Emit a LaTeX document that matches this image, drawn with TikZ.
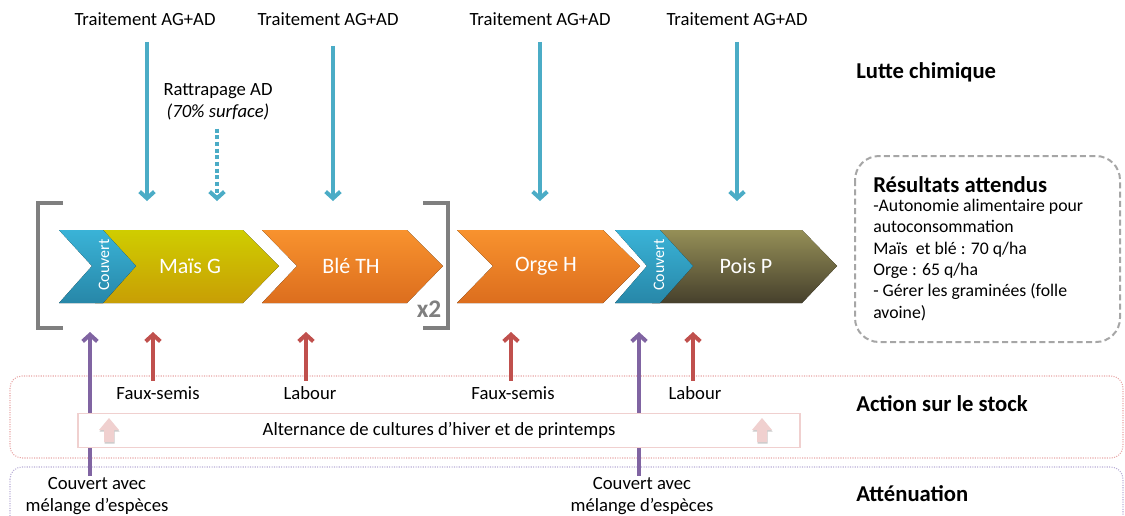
\documentclass[tikz,border=0pt]{standalone}
\usepackage{fontspec}
\setmainfont{Carlito}
\usepackage{xcolor}
\usepackage{tikz}
\usetikzlibrary{
    positioning,
    arrows.meta
}
\definecolor{bleuT}{HTML}{4BACC6}
\definecolor{rougeS}{HTML}{C0504D}
\definecolor{violetC}{HTML}{8064A2}
\definecolor{grisB}{HTML}{7F7F7F}
\definecolor{grisR}{HTML}{A6A6A6}
\definecolor{roseB}{HTML}{E8A6A6}
\definecolor{roseA}{HTML}{F0D0CF}
\definecolor{lilasB}{HTML}{B9AED6}
\definecolor{jauneH}{HTML}{CFCD00}
\definecolor{jauneB}{HTML}{C89E05}
\definecolor{orangeH}{HTML}{F8922E}
\definecolor{orangeB}{HTML}{DC6E1E}
\definecolor{bleuH}{HTML}{3AB3D7}
\definecolor{bleuB}{HTML}{2787A8}
\definecolor{oliveH}{HTML}{958F57}
\definecolor{oliveB}{HTML}{46402C}

\begin{document}
\begin{tikzpicture}[x=0.75pt,y=-0.75pt,
    txt/.style={font=\fontsize{14}{16.5}\selectfont, inner sep=1pt},
    titre/.style={font=\fontsize{17}{20}\selectfont\bfseries, anchor=west, inner sep=0pt},
    culture/.style={font=\fontsize{16.5}{18}\selectfont, text=white},
    couv/.style={font=\fontsize{12}{14}\selectfont, text=white, rotate=90},
    fleche/.style={line width=3pt, -{Straight Barb[length=5pt,width=11pt]}},
    traitement/.style={fleche, bleuT},
    travail/.style={fleche, rougeS},
    couvert/.style={fleche, violetC}
]
    \useasboundingbox (0,0) rectangle (1125,515);

    % cadres du bas
    \draw[roseB, densely dotted, line width=0.8pt, rounded corners=9pt] (10,376) rectangle (1123,458);
    \draw[lilasB, densely dotted, line width=0.8pt, rounded corners=9pt] (10,467) rectangle (1123,560);

    % cultures
    \fill[top color=jauneH, bottom color=jauneB]
        (95,230) -- (243,230) -- (279,266) -- (243,303) -- (95,303) -- (128,266) -- cycle;
    \fill[top color=bleuH, bottom color=bleuB]
        (59,230) -- (103,230) -- (136,266) -- (103,303) -- (59,303) -- (92,266) -- cycle;
    \fill[top color=orangeH, bottom color=orangeB]
        (262,230) -- (407,230) -- (443,266) -- (407,303) -- (262,303) -- (297,266) -- cycle;
    \fill[top color=orangeH, bottom color=orangeB]
        (457,230) -- (603,230) -- (640,266) -- (603,303) -- (457,303) -- (493,266) -- cycle;
    \fill[top color=oliveH, bottom color=oliveB]
        (652,230) -- (802,230) -- (837,266) -- (802,303) -- (652,303) -- (685,266) -- cycle;
    \fill[top color=bleuH, bottom color=bleuB]
        (615,230) -- (660,230) -- (693,266) -- (660,303) -- (615,303) -- (647,266) -- cycle;

    \node[couv] (couv1) at (104,265) {Couvert};
    \node[culture] (mais) at (190,266) {Maïs G};
    \node[culture] (ble) at (351,266) {Blé TH};
    \node[culture] (orge) at (546,266) {Orge H};
    \node[couv] (couv2) at (659,265) {Couvert};
    \node[culture] (pois) at (746,266) {Pois P};

    % crochets
    \draw[grisB, line width=3pt] (63,203) -- (38,203) -- (38,328) -- (63,328);
    \draw[grisB, line width=3pt] (423,203) -- (448,203) -- (448,328) -- (423,328);
    \node[font=\fontsize{19}{20}\selectfont\bfseries, text=grisB, inner sep=0pt] (fois) at (429,309) {x2};

    % lutte chimique
    \node[txt] (t1) at (145,19) {Traitement AG+AD};
    \node[txt] (t2) at (328,19) {Traitement AG+AD};
    \node[txt] (t3) at (540,19) {Traitement AG+AD};
    \node[txt] (t4) at (737,19) {Traitement AG+AD};
    \node[txt, align=center] (ratt) at (218,102) {Rattrapage AD\\\textit{(70\% surface)}};
    \coordinate (a1) at (147,201);
    \coordinate (a2) at (333,201);
    \coordinate (a3) at (540,201);
    \coordinate (a4) at (737,201);
    \coordinate (a5) at (217,201);
    \draw[traitement, shorten <=11pt] (t1.south -| a1) -- (a1);
    \draw[traitement, shorten <=14pt] (t2.south -| a2) -- (a2);
    \draw[traitement, shorten <=11pt] (t3.south -| a3) -- (a3);
    \draw[traitement, shorten <=11pt] (t4.south -| a4) -- (a4);
    \draw[bleuT, line width=3pt, dotted, shorten <=5pt] (ratt.south -| a5) -- ([yshift=4pt]a5);
    \draw[bleuT, line width=3pt, -{Straight Barb[length=5pt,width=11pt]}] ([yshift=4pt]a5) -- (a5);

    % couverts (sous le cadre)
    \node[txt, align=center] (cm1) at (97,496) {Couvert avec\\mélange d’espèces};
    \node[txt, align=center] (cm2) at (642,496) {Couvert avec\\mélange d’espèces};
    \coordinate (v1) at (90,332);
    \coordinate (v2) at (639,332);
    \draw[couvert] (cm1.north -| v1) -- (v1);
    \draw[couvert] (cm2.north -| v2) -- (v2);

    % action sur le stock
    \node[draw=roseA, fill=white, line width=0.8pt, minimum width=541.5pt, minimum height=26pt, txt] (alt) at (439,430.5) {Alternance de cultures d’hiver et de printemps};
    \foreach \px in {109,762} {
        \fill[gray!40] (\px-9.5,431.5) -- (\px+0.5,419.5) -- (\px+10.5,431.5) -- (\px+5.5,431.5) -- (\px+5.5,443.5) -- (\px-4.5,443.5) -- (\px-4.5,431.5) -- cycle;
        \fill[roseA] (\px-10,430) -- (\px,418) -- (\px+10,430) -- (\px+5,430) -- (\px+5,442) -- (\px-5,442) -- (\px-5,430) -- cycle;
    }
    \node[txt] (fs1) at (158,393) {Faux-semis};
    \node[txt] (lb1) at (310,393) {Labour};
    \node[txt] (fs2) at (513,393) {Faux-semis};
    \node[txt] (lb2) at (695,393) {Labour};
    \coordinate (r1) at (153,332);
    \coordinate (r2) at (306,332);
    \coordinate (r3) at (511,332);
    \coordinate (r4) at (693,332);
    \draw[travail, shorten <=3pt] (fs1.north -| r1) -- (r1);
    \draw[travail, shorten <=3pt] (lb1.north -| r2) -- (r2);
    \draw[travail, shorten <=3pt] (fs2.north -| r3) -- (r3);
    \draw[travail, shorten <=3pt] (lb2.north -| r4) -- (r4);

    % titres a droite
    \node[titre] (lutte) at (856,72) {Lutte chimique};
    \node[titre] (action) at (856,404) {Action sur le stock};
    \node[titre] (atten) at (856,494) {Atténuation};

    % resultats attendus
    \draw[grisR, line width=1.5pt, dash pattern=on 4.5pt off 2.5pt, rounded corners=18pt] (855,156) rectangle (1120,342);
    \node[titre] (res) at (873,185) {Résultats attendus};
    \node[anchor=north west, inner sep=0pt, align=left, font=\fontsize{13.3}{16}\selectfont] (resbody) at (873,199)
        {-Autonomie alimentaire pour\\autoconsommation\\Maïs\ \ et blé : 70 q/ha\\Orge : 65 q/ha\\- Gérer les graminées (folle\\avoine)};
\end{tikzpicture}
\end{document}
